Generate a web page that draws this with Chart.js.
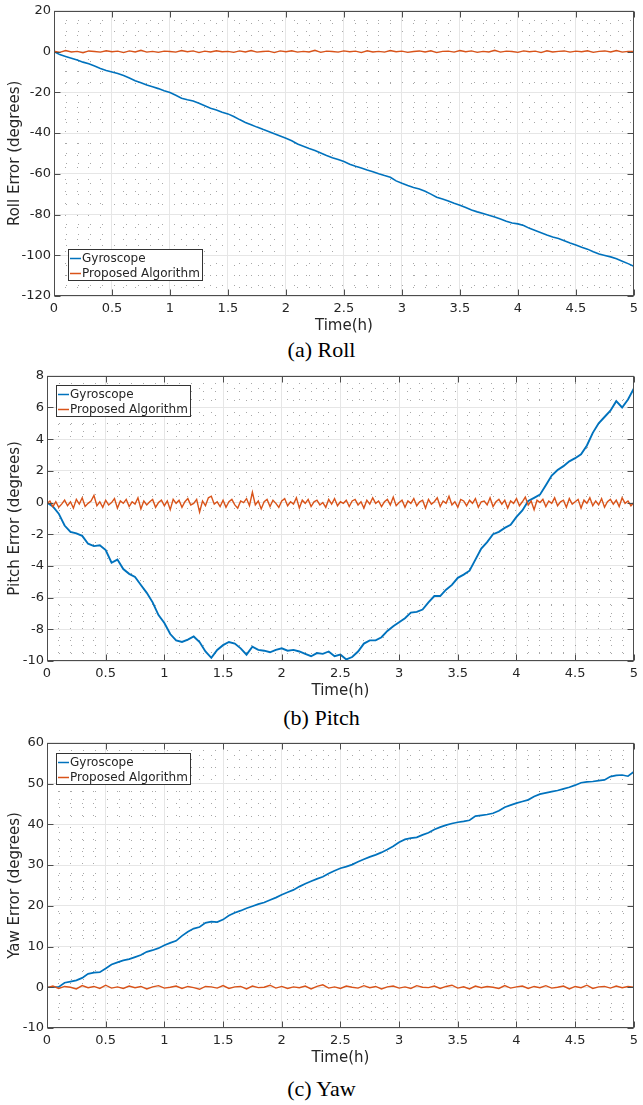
<!DOCTYPE html>
<html>
<head>
<meta charset="utf-8">
<script src="https://cdn.jsdelivr.net/npm/chart.js@4"></script>
<style>
  body { margin: 0; background: #fff; }
  #page { position: relative; width: 643px; height: 1105px; }
  canvas { position: absolute; left: 0; }
  .cap { position: absolute; left: 0; width: 643px; text-align: center;
         font-family: "Liberation Serif", "Times New Roman", serif; font-size: 22px;
         line-height: 22px; color: #000; }
</style>
</head>
<body>
<div id="page">
  <canvas id="roll" width="643" height="336" style="top:0px"></canvas>
  <div class="cap" style="top:339px">(a) Roll</div>
  <canvas id="pitch" width="643" height="336" style="top:365px"></canvas>
  <div class="cap" style="top:707px">(b) Pitch</div>
  <canvas id="yaw" width="643" height="336" style="top:732px"></canvas>
  <div class="cap" style="top:1078px">(c) Yaw</div>
</div>
<script>
// time grids (hours)
const timeCoarse = Array.from({ length: 101 }, (_, i) => +(i * 0.05).toFixed(3));
const timeFine = Array.from({ length: 201 }, (_, i) => +(i * 0.025).toFixed(3));

const seriesNames = ['Gyroscope', 'Proposed Algorithm'];

// Roll error (deg), sampled every 0.05 h
const rollGyro = [
  0, -1.5, -2.4, -3.3, -4.2, -5.2, -6.0, -7.1, -8.3, -9.3,
  -10.0, -10.8, -11.8, -13.0, -14.3, -15.3, -16.4, -17.3, -18.2, -19.2,
  -20.1, -21.5, -22.9, -23.7, -24.3, -25.4, -26.6, -27.8, -28.7, -29.8,
  -30.6, -31.9, -33.4, -34.8, -35.9, -37.1, -38.2, -39.2, -40.4, -41.5,
  -42.6, -43.8, -45.4, -46.5, -47.6, -48.6, -49.8, -51.0, -52.1, -53.0,
  -54.0, -55.3, -56.3, -57.2, -58.2, -59.0, -60.0, -60.9, -61.7, -63.5,
  -64.7, -65.8, -66.7, -67.5, -68.6, -70.0, -71.5, -72.4, -73.4, -74.5,
  -75.4, -76.6, -77.8, -78.7, -79.5, -80.4, -81.2, -82.2, -83.3, -84.2,
  -84.6, -85.4, -86.8, -87.8, -88.9, -90.0, -91.0, -91.8, -92.9, -94.0,
  -95.0, -96.1, -97.0, -98.3, -99.4, -100.1, -100.8, -101.7, -102.9, -104.1,
  -105.4
];
const rollProposed = [
  0.2, -0.4, 0.5, -0.2, 0.1, -0.6, 0.3, 0.0, -0.3, 0.4,
  -0.1, 0.2, -0.5, 0.3, -0.2, 0.6, -0.3, 0.1, -0.4, 0.2,
  0.0, -0.3, 0.5, -0.1, 0.3, -0.5, 0.2, -0.2, 0.4, -0.1,
  0.1, -0.4, 0.3, -0.2, 0.5, -0.3, 0.0, 0.2, -0.5, 0.3,
  -0.1, 0.4, -0.3, 0.1, -0.2, 0.6, -0.4, 0.2, 0.0, -0.3,
  0.3, -0.1, 0.2, -0.5, 0.4, -0.2, 0.1, -0.3, 0.5, -0.1,
  0.2, -0.4, 0.0, 0.3, -0.2, 0.4, -0.5, 0.1, 0.2, -0.3,
  0.5, -0.1, 0.3, -0.4, 0.1, -0.2, 0.6, -0.3, 0.2, 0.0,
  -0.4, 0.3, -0.1, 0.2, -0.5, 0.4, -0.2, 0.1, 0.3, -0.3,
  0.2, -0.1, 0.4, -0.4, 0.1, 0.3, -0.2, 0.5, -0.3, 0.1,
  0.0
];

// Pitch error (deg)
const pitchGyro = [
  0.0, -0.25, -0.7, -1.45, -1.85, -1.95, -2.1, -2.6, -2.75, -2.7,
  -3.0, -3.8, -3.6, -4.2, -4.5, -4.7, -5.2, -5.7, -6.3, -7.1,
  -7.6, -8.3, -8.7, -8.8, -8.65, -8.45, -8.8, -9.4, -9.8, -9.3,
  -9.0, -8.8, -8.9, -9.2, -9.6, -9.1, -9.3, -9.35, -9.45, -9.3,
  -9.2, -9.35, -9.3, -9.4, -9.55, -9.7, -9.5, -9.55, -9.4, -9.7,
  -9.6, -9.9, -9.75, -9.4, -8.9, -8.7, -8.7, -8.5, -8.1, -7.8,
  -7.55, -7.3, -6.95, -6.9, -6.75, -6.3, -5.9, -5.9, -5.5, -5.2,
  -4.75, -4.55, -4.3, -3.6, -2.9, -2.5, -2.0, -1.85, -1.6, -1.4,
  -0.9, -0.5, 0.1, 0.3, 0.5, 1.1, 1.7, 2.05, 2.3, 2.6,
  2.8, 3.05, 3.6, 4.4, 5.0, 5.4, 5.8, 6.4, 6.0, 6.5,
  7.2
];
// sampled every 0.025 h
const pitchProposed = [
  -0.05, 0.10, -0.25, 0.05, -0.30, -0.10, 0.15, -0.20, 0.05, -0.35,
  0.20, -0.10, 0.30, -0.25, -0.05, 0.10, 0.45, -0.20, 0.05, -0.30,
  0.15, -0.15, 0.00, 0.25, -0.35, 0.10, -0.05, 0.20, -0.25, 0.05,
  -0.10, 0.30, -0.40, 0.10, -0.15, 0.05, 0.20, -0.30, 0.00, 0.15,
  -0.20, 0.10, -0.45, 0.20, -0.05, 0.15, -0.30, 0.05, 0.25, -0.15,
  -0.05, 0.20, -0.60, 0.10, -0.20, 0.30, 0.40, -0.10, 0.05, -0.25,
  0.15, -0.30, 0.05, 0.20, -0.15, -0.35, 0.10, 0.00, 0.25, -0.20,
  0.65, -0.15, 0.10, -0.40, 0.05, 0.20, -0.25, 0.15, -0.05, -0.30,
  0.10, 0.25, -0.20, 0.05, -0.10, 0.30, -0.35, 0.15, -0.05, 0.20,
  -0.25, 0.05, 0.15, -0.15, 0.00, -0.30, 0.20, -0.10, 0.25, -0.20,
  0.05, -0.05, 0.15, -0.25, 0.10, 0.20, -0.15, 0.05, -0.35, 0.15,
  -0.10, 0.30, -0.05, 0.10, -0.25, 0.05, 0.20, -0.15, 0.35, -0.20,
  0.00, 0.15, -0.30, 0.10, -0.05, 0.25, -0.20, 0.05, 0.15, -0.35,
  0.20, -0.10, 0.05, 0.30, -0.25, 0.10, -0.05, 0.40, -0.15, 0.05,
  -0.30, 0.20, 0.10, -0.20, 0.15, -0.05, 0.25, -0.30, 0.05, 0.10,
  -0.15, 0.30, -0.25, 0.05, 0.20, -0.10, 0.15, -0.35, 0.10, -0.05,
  0.25, -0.20, 0.05, 0.35, -0.15, 0.10, -0.45, 0.15, 0.00, 0.20,
  -0.25, 0.10, -0.05, 0.30, -0.20, 0.05, 0.15, -0.30, 0.25, -0.10,
  0.05, 0.20, -0.35, 0.15, -0.05, 0.30, -0.20, 0.10, -0.15, 0.25,
  -0.30, 0.05, 0.20, -0.10, 0.15, -0.25, 0.30, -0.05, 0.10, -0.20,
  0.00
];

// Yaw error (deg)
const yawGyro = [
  0, 0, 0.1, 1.1, 1.4, 1.7, 2.3, 3.3, 3.6, 3.7,
  4.6, 5.6, 6.1, 6.6, 6.9, 7.4, 7.9, 8.7, 9.1, 9.6,
  10.3, 10.9, 11.4, 12.6, 13.6, 14.4, 14.8, 15.8, 16.1, 16.0,
  16.6, 17.6, 18.3, 18.8, 19.4, 19.9, 20.4, 20.8, 21.4, 22.0,
  22.7, 23.3, 23.9, 24.7, 25.4, 26.0, 26.6, 27.1, 27.9, 28.6,
  29.2, 29.6, 30.1, 30.8, 31.4, 32.0, 32.5, 33.1, 33.8, 34.6,
  35.6, 36.3, 36.6, 36.8, 37.4, 37.9, 38.7, 39.3, 39.8, 40.2,
  40.5, 40.7, 41.0, 42.0, 42.2, 42.4, 42.7, 43.3, 44.2, 44.7,
  45.2, 45.6, 46.0, 46.8, 47.4, 47.7, 48.0, 48.3, 48.7, 49.1,
  49.6, 50.2, 50.4, 50.5, 50.7, 50.9, 51.7, 52.0, 52.1, 51.8,
  52.9
];
const yawProposed = [
  -0.1, 0.3, -0.3, 0.2, 0.0, -0.4, 0.4, -0.1, 0.2, -0.3,
  0.5, -0.2, 0.1, -0.3, 0.3, -0.1, 0.2, -0.4, 0.1, 0.4,
  -0.2, 0.0, 0.3, -0.3, 0.2, -0.1, -0.5, 0.2, 0.1, -0.2,
  0.4, -0.3, 0.1, 0.2, -0.4, 0.3, -0.1, 0.0, 0.5, -0.2,
  0.2, -0.3, 0.1, -0.1, 0.3, -0.4, 0.2, 0.6, -0.2, 0.1,
  -0.3, 0.3, 0.0, -0.2, 0.4, -0.1, 0.2, -0.4, 0.1, 0.3,
  -0.2, 0.1, -0.3, 0.4, 0.0, -0.1, 0.3, -0.3, 0.2, 0.5,
  -0.2, 0.1, -0.4, 0.3, -0.1, 0.2, 0.0, -0.3, 0.4, -0.2,
  0.1, 0.3, -0.3, 0.2, -0.1, 0.4, -0.2, 0.0, 0.3, -0.4,
  0.2, -0.1, 0.5, -0.3, 0.1, 0.2, -0.2, 0.3, -0.1, 0.2,
  0.0
];

const BLUE = '#0072BD';
const ORANGE = '#D95319';
const TEXT = '#262626';
const FONT = 'DejaVu Sans';

// box, inward tick marks and legend in MATLAB style
const matlabFrame = {
  id: 'matlabFrame',
  afterDatasetsDraw(chart, args, opts) {
    const { ctx, chartArea: a, scales } = chart;
    const L = Math.round(a.left) + 0.5, R = Math.round(a.right) - 0.5;
    const T = Math.round(a.top) + 0.5, B = Math.round(a.bottom) - 0.5;
    ctx.save();
    ctx.strokeStyle = '#4d4d4d';
    ctx.lineWidth = 1;
    ctx.beginPath();
    scales.x.ticks.forEach((t, i) => {
      const px = Math.round(scales.x.getPixelForTick(i)) + 0.5;
      ctx.moveTo(px, B); ctx.lineTo(px, B - 6);
      ctx.moveTo(px, T); ctx.lineTo(px, T + 6);
    });
    scales.y.ticks.forEach((t, i) => {
      const py = Math.round(scales.y.getPixelForTick(i)) + 0.5;
      ctx.moveTo(L, py); ctx.lineTo(L + 6, py);
      ctx.moveTo(R, py); ctx.lineTo(R - 6, py);
    });
    ctx.stroke();
    ctx.strokeRect(L, T, R - L, B - T);

    // legend
    const ds = chart.data.datasets;
    ctx.font = '12px "' + FONT + '"';
    const textW = Math.max(...ds.map(d => ctx.measureText(d.label).width));
    const w = Math.round(textW + 17), h = 32;
    const x0 = Math.round(a.left) + opts.dx;
    const y0 = opts.corner === 'bl' ? Math.round(a.bottom) - opts.dy - h : Math.round(a.top) + opts.dy;
    ctx.fillStyle = '#fff';
    ctx.fillRect(x0, y0, w, h);
    ctx.strokeStyle = '#333';
    ctx.strokeRect(x0 + 0.5, y0 + 0.5, w - 1, h - 1);
    ds.forEach((d, i) => {
      const cy = y0 + 9 + i * 15;
      ctx.strokeStyle = d.borderColor;
      ctx.lineWidth = 1.5;
      ctx.beginPath();
      ctx.moveTo(x0 + 2, cy + 0.5); ctx.lineTo(x0 + 13, cy + 0.5);
      ctx.stroke();
      ctx.fillStyle = TEXT;
      ctx.textBaseline = 'middle';
      ctx.fillText(d.label, x0 + 14, cy + 1);
    });
    ctx.restore();
  }
};

const fmt = v => String(Number(v.toFixed(3)));

function makeChart(id, o) {
  const isMajor = (v, step) => Math.abs(v / step - Math.round(v / step)) < 1e-6;
  const dot = 'rgba(60,60,60,0.45)';
  new Chart(document.getElementById(id), {
    type: 'line',
    data: {
      datasets: [
        {
          label: seriesNames[0],
          data: o.t1.map((t, i) => ({ x: t, y: o.gyro[i] })),
          borderColor: BLUE, borderWidth: o.gw, pointRadius: 0, order: 1
        },
        {
          label: seriesNames[1],
          data: o.t2.map((t, i) => ({ x: t, y: o.prop[i] })),
          borderColor: ORANGE, borderWidth: 1.4, pointRadius: 0, order: 0
        }
      ]
    },
    options: {
      responsive: false,
      animation: false,
      layout: { padding: { top: 10, right: 4, left: 0, bottom: 0 } },
      plugins: {
        legend: { display: false },
        tooltip: { enabled: false },
        matlabFrame: { corner: o.corner, dx: o.ldx, dy: o.ldy }
      },
      scales: {
        x: {
          type: 'linear', min: 0, max: 5,
          afterFit: s => { s.height = 40; },
          border: { display: false },
          grid: { color: '#e6e6e6', drawTicks: false },
          ticks: { stepSize: 0.5, autoSkip: false, maxRotation: 0, padding: 5,
                   color: TEXT, font: { family: FONT, size: 13 }, callback: fmt },
          title: { display: true, text: 'Time(h)', color: TEXT,
                   font: { family: FONT, size: 15 }, padding: { top: 0, bottom: 1 } }
        },
        xMinor: {
          type: 'linear', position: 'top', min: 0, max: 5,
          afterFit: s => { s.height = 0; },
          border: { display: false, dash: [1, 11] },
          ticks: { display: false, stepSize: 0.1 },
          grid: { drawTicks: false,
                  color: c => isMajor(c.tick.value, 0.5) ? 'rgba(0,0,0,0)' : dot }
        },
        y: {
          min: o.yMin, max: o.yMax,
          afterFit: s => { s.width = o.yw; },
          border: { display: false },
          grid: { color: '#e6e6e6', drawTicks: false },
          ticks: { stepSize: o.yStep, padding: 3, color: TEXT,
                   font: { family: FONT, size: 13 }, callback: fmt },
          title: { display: true, text: o.yTitle, color: TEXT,
                   font: { family: FONT, size: 15 }, padding: { top: 6, bottom: 0 } }
        },
        yMinor: {
          position: 'right', min: o.yMin, max: o.yMax,
          afterFit: s => { s.width = 0; },
          border: { display: false, dash: [1, 11] },
          ticks: { display: false, stepSize: o.yMinorStep },
          grid: { drawTicks: false,
                  color: c => isMajor(c.tick.value, o.yStep) ? 'rgba(0,0,0,0)' : dot }
        }
      }
    },
    plugins: [matlabFrame]
  });
}

makeChart('roll', {
  yMin: -120, yMax: 20, yStep: 20, yMinorStep: 5, yw: 54, gw: 1.6,
  yTitle: 'Roll Error (degrees)',
  t1: timeCoarse, gyro: rollGyro, t2: timeCoarse, prop: rollProposed,
  corner: 'bl', ldx: 14, ldy: 15
});
makeChart('pitch', {
  yMin: -10, yMax: 8, yStep: 2, yMinorStep: 0.5, yw: 47, gw: 1.9,
  yTitle: 'Pitch Error (degrees)',
  t1: timeCoarse, gyro: pitchGyro, t2: timeFine, prop: pitchProposed,
  corner: 'tl', ldx: 9, ldy: 9
});
makeChart('yaw', {
  yMin: -10, yMax: 60, yStep: 10, yMinorStep: 2, yw: 47, gw: 1.7,
  yTitle: 'Yaw Error (degrees)',
  t1: timeCoarse, gyro: yawGyro, t2: timeCoarse, prop: yawProposed,
  corner: 'tl', ldx: 9, ldy: 10
});
</script>
</body>
</html>
